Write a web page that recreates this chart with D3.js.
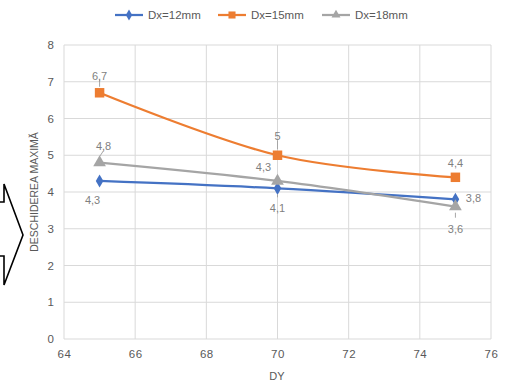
<!DOCTYPE html>
<html><head><meta charset="utf-8">
<script src="https://cdn.jsdelivr.net/npm/d3@7"></script>
<style>body{margin:0;background:#fff;}svg{display:block;font-family:"Liberation Sans",Arial,sans-serif;}</style>
</head><body>
<svg id="c" width="513" height="382"></svg>
<script>
const dyValues = [65, 70, 75];
const seriesNames = ["Dx=12mm", "Dx=15mm", "Dx=18mm"];
const dx12 = [4.3, 4.1, 3.8];
const dx15 = [6.7, 5.0, 4.4];
const dx18 = [4.8, 4.3, 3.6];
const xTicks = [64, 66, 68, 70, 72, 74, 76];
const yTicks = [0, 1, 2, 3, 4, 5, 6, 7, 8];
const colors = ["#4472C4", "#ED7D31", "#A5A5A5"];
const markerTypes = [d3.symbolDiamond, d3.symbolSquare, d3.symbolTriangle];
const seriesVals = [dx12, dx15, dx18];
// label offsets (dx, dy) relative to point and leader flag
const labelOffsets = [
  [[-7, 19, false], [0, 20, true], [18, -1, false]],
  [[0, -17, true], [0, -19, true], [0, -14, false]],
  [[4, -16, true], [-14, -14, false], [0, 22, true]]
];

const svg = d3.select("#c");
const x = d3.scaleLinear().domain([64, 76]).range([64, 491]);
const y = d3.scaleLinear().domain([0, 8]).range([339, 45]);

// gridlines
svg.append("g").selectAll("line").data(yTicks).join("line")
  .attr("x1", 64).attr("x2", 491).attr("y1", d => y(d)).attr("y2", d => y(d))
  .attr("stroke", "#d9d9d9").attr("stroke-width", 1);
svg.append("g").selectAll("line").data(xTicks).join("line")
  .attr("y1", 45).attr("y2", 339).attr("x1", d => x(d)).attr("x2", d => x(d))
  .attr("stroke", "#d9d9d9").attr("stroke-width", 1);

// axes
const xAxis = svg.append("g").attr("transform", "translate(0,339)")
  .call(d3.axisBottom(x).tickValues(xTicks).tickSize(0).tickPadding(11));
xAxis.select(".domain").remove();
xAxis.selectAll("text").attr("fill", "#595959").style("font-size", "11.5px").style("letter-spacing", "0.5px");
const yAxis = svg.append("g").attr("transform", "translate(64,0)")
  .call(d3.axisLeft(y).tickValues(yTicks).tickSize(0).tickPadding(10));
yAxis.select(".domain").remove();
yAxis.selectAll("text").attr("fill", "#595959").style("font-size", "11.5px");

// axis titles
svg.append("text").attr("x", 277).attr("y", 380).attr("text-anchor", "middle")
  .attr("fill", "#595959").style("font-size", "11px").text("DY");
svg.append("text").attr("transform", "translate(38,192) rotate(-90)").attr("text-anchor", "middle")
  .attr("fill", "#595959").style("font-size", "10.5px").text("DESCHIDEREA MAXIMĂ");

// lines
const line = d3.line().x(d => x(d[0])).y(d => y(d[1])).curve(d3.curveCardinal.tension(0));
seriesVals.forEach((vals, i) => {
  const pts = dyValues.map((d, j) => [d, vals[j]]);
  svg.append("path").datum(pts).attr("d", line).attr("fill", "none")
    .attr("stroke", colors[i]).attr("stroke-width", 2.25).attr("stroke-linecap", "round");
});
// markers
seriesVals.forEach((vals, i) => {
  const size = i === 1 ? 90 : (i === 0 ? 50 : 70);
  svg.append("g").selectAll("path").data(dyValues.map((d, j) => [d, vals[j]])).join("path")
    .attr("transform", d => `translate(${x(d[0])},${y(d[1])})`)
    .attr("d", d3.symbol().type(markerTypes[i]).size(size)).attr("fill", colors[i]);
});
// labels
seriesVals.forEach((vals, i) => {
  vals.forEach((v, j) => {
    const [ox, oy, leader] = labelOffsets[i][j];
    const px = x(dyValues[j]), py = y(v);
    if (leader) {
      const ly1 = oy < 0 ? py + oy + 4 : py + oy - 11;
      const ly2 = oy < 0 ? py - 6 : py + 6;
      svg.append("line").attr("x1", px + ox).attr("y1", ly1).attr("x2", px).attr("y2", ly2)
        .attr("stroke", "#a6a6a6").attr("stroke-width", 1);
    }
    svg.append("text").attr("x", px + ox).attr("y", py + oy).attr("text-anchor", "middle")
      .attr("dy", "0.35em").attr("fill", "#7f7f7f").style("font-size", "11px")
      .text(String(v).replace(".", ","));
  });
});

// legend
const legX = [115, 218, 322];
seriesNames.forEach((n, i) => {
  const g = svg.append("g");
  g.append("line").attr("x1", legX[i]).attr("x2", legX[i] + 28).attr("y1", 15).attr("y2", 15)
    .attr("stroke", colors[i]).attr("stroke-width", 2.25);
  g.append("path").attr("transform", `translate(${legX[i] + 14},15)`)
    .attr("d", d3.symbol().type(markerTypes[i]).size(i === 1 ? 50 : 35)).attr("fill", colors[i]);
  g.append("text").attr("x", legX[i] + 33).attr("y", 15).attr("dy", "0.35em")
    .attr("fill", "#595959").style("font-size", "11.5px").text(n);
});

// decorative outline arrow at left edge
svg.append("path")
  .attr("d", "M-2,202 L4,202 L4,184 L23,235 L4,285 L4,256 L-2,256")
  .attr("fill", "none").attr("stroke", "#000").attr("stroke-width", 1.6).attr("stroke-linejoin", "miter");
</script>
</body></html>
